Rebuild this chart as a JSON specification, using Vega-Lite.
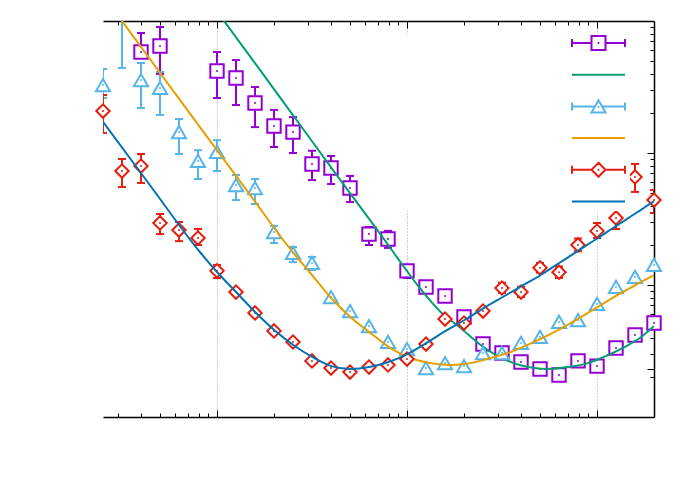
{
  "$schema": "https://vega.github.io/schema/vega-lite/v6.json",
  "width": 551,
  "height": 396,
  "autosize": {"type": "none"},
  "padding": {"left": 103, "top": 21, "right": 38, "bottom": 68},
  "background": "white",
  "config": {"view": {"stroke": null}},
  "datasets": {
    "a": [
      {"x": 3.981, "y": 58.2, "lo": 52.5, "hi": 81.1},
      {"x": 5.012, "y": 64.7, "lo": 39.7, "hi": 90.1},
      {"x": 10, "y": 41.8, "lo": 26.1, "hi": 58.2},
      {"x": 12.59, "y": 37.0, "lo": 23.1, "hi": 50.6},
      {"x": 15.85, "y": 23.9, "lo": 15.7, "hi": 31.6},
      {"x": 19.95, "y": 16.0, "lo": 11.1, "hi": 21.2},
      {"x": 25.12, "y": 14.4, "lo": 10.0, "hi": 18.7},
      {"x": 31.62, "y": 8.26, "lo": 6.24, "hi": 10.4},
      {"x": 39.81, "y": 7.70, "lo": 5.82, "hi": 9.49},
      {"x": 50.12, "y": 5.43, "lo": 4.25, "hi": 6.70},
      {"x": 63.10, "y": 2.43, "lo": 2.01, "hi": 2.75},
      {"x": 79.43, "y": 2.23, "lo": 1.91, "hi": 2.57},
      {"x": 100, "y": 1.28, "lo": 1.13, "hi": 1.42},
      {"x": 125.9, "y": 0.966, "lo": 0.966, "hi": 0.966},
      {"x": 158.5, "y": 0.826, "lo": 0.826, "hi": 0.826},
      {"x": 199.5, "y": 0.572, "lo": 0.572, "hi": 0.572},
      {"x": 251.2, "y": 0.357, "lo": 0.357, "hi": 0.357},
      {"x": 316.2, "y": 0.305, "lo": 0.305, "hi": 0.305},
      {"x": 398.1, "y": 0.261, "lo": 0.261, "hi": 0.261},
      {"x": 501.2, "y": 0.231, "lo": 0.231, "hi": 0.231},
      {"x": 631.0, "y": 0.208, "lo": 0.208, "hi": 0.208},
      {"x": 794.3, "y": 0.266, "lo": 0.266, "hi": 0.266},
      {"x": 1000, "y": 0.243, "lo": 0.243, "hi": 0.243},
      {"x": 1259, "y": 0.333, "lo": 0.333, "hi": 0.333},
      {"x": 1585, "y": 0.418, "lo": 0.418, "hi": 0.418},
      {"x": 1995, "y": 0.515, "lo": 0.515, "hi": 0.515}
    ],
    "b": [
      {"x": 2.512, "y": 32.7, "lo": 26.1, "hi": 43.3},
      {"x": 3.162, "y": 120, "lo": 44.1, "hi": 200},
      {"x": 3.981, "y": 35.7, "lo": 21.9, "hi": 48.1},
      {"x": 5.012, "y": 31.1, "lo": 19.4, "hi": 41.1},
      {"x": 6.310, "y": 14.4, "lo": 9.83, "hi": 18.1},
      {"x": 7.943, "y": 8.70, "lo": 6.35, "hi": 10.5},
      {"x": 10, "y": 10.2, "lo": 7.30, "hi": 12.5},
      {"x": 12.59, "y": 5.72, "lo": 4.40, "hi": 6.81},
      {"x": 15.85, "y": 5.43, "lo": 4.11, "hi": 6.35},
      {"x": 19.95, "y": 2.52, "lo": 2.08, "hi": 2.80},
      {"x": 25.12, "y": 1.75, "lo": 1.49, "hi": 1.94},
      {"x": 31.62, "y": 1.47, "lo": 1.30, "hi": 1.63},
      {"x": 39.81, "y": 0.811, "lo": 0.811, "hi": 0.811},
      {"x": 50.12, "y": 0.635, "lo": 0.635, "hi": 0.635},
      {"x": 63.10, "y": 0.489, "lo": 0.489, "hi": 0.489},
      {"x": 79.43, "y": 0.370, "lo": 0.370, "hi": 0.370},
      {"x": 100, "y": 0.327, "lo": 0.327, "hi": 0.327},
      {"x": 125.9, "y": 0.235, "lo": 0.235, "hi": 0.235},
      {"x": 158.5, "y": 0.256, "lo": 0.256, "hi": 0.256},
      {"x": 199.5, "y": 0.243, "lo": 0.243, "hi": 0.243},
      {"x": 251.2, "y": 0.305, "lo": 0.305, "hi": 0.305},
      {"x": 316.2, "y": 0.305, "lo": 0.305, "hi": 0.305},
      {"x": 398.1, "y": 0.364, "lo": 0.364, "hi": 0.364},
      {"x": 501.2, "y": 0.404, "lo": 0.404, "hi": 0.404},
      {"x": 631.0, "y": 0.525, "lo": 0.525, "hi": 0.525},
      {"x": 794.3, "y": 0.543, "lo": 0.543, "hi": 0.543},
      {"x": 1000, "y": 0.718, "lo": 0.718, "hi": 0.718},
      {"x": 1259, "y": 0.966, "lo": 0.966, "hi": 0.966},
      {"x": 1585, "y": 1.15, "lo": 1.15, "hi": 1.15},
      {"x": 1995, "y": 1.42, "lo": 1.42, "hi": 1.42}
    ],
    "c": [
      {"x": 2.512, "y": 20.8, "lo": 14.2, "hi": 27.5},
      {"x": 3.162, "y": 7.30, "lo": 5.52, "hi": 9.01},
      {"x": 3.981, "y": 7.97, "lo": 5.93, "hi": 9.83},
      {"x": 5.012, "y": 2.95, "lo": 2.43, "hi": 3.45},
      {"x": 6.310, "y": 2.61, "lo": 2.15, "hi": 3.00},
      {"x": 7.943, "y": 2.27, "lo": 2.01, "hi": 2.66},
      {"x": 10, "y": 1.28, "lo": 1.13, "hi": 1.42},
      {"x": 12.59, "y": 0.885, "lo": 0.885, "hi": 0.885},
      {"x": 15.85, "y": 0.614, "lo": 0.614, "hi": 0.614},
      {"x": 19.95, "y": 0.449, "lo": 0.449, "hi": 0.449},
      {"x": 25.12, "y": 0.370, "lo": 0.370, "hi": 0.370},
      {"x": 31.62, "y": 0.266, "lo": 0.266, "hi": 0.266},
      {"x": 39.81, "y": 0.235, "lo": 0.235, "hi": 0.235},
      {"x": 50.12, "y": 0.219, "lo": 0.219, "hi": 0.219},
      {"x": 63.10, "y": 0.239, "lo": 0.239, "hi": 0.239},
      {"x": 79.43, "y": 0.248, "lo": 0.248, "hi": 0.248},
      {"x": 100, "y": 0.275, "lo": 0.275, "hi": 0.275},
      {"x": 125.9, "y": 0.357, "lo": 0.357, "hi": 0.357},
      {"x": 158.5, "y": 0.552, "lo": 0.552, "hi": 0.552},
      {"x": 199.5, "y": 0.515, "lo": 0.515, "hi": 0.515},
      {"x": 251.2, "y": 0.635, "lo": 0.635, "hi": 0.635},
      {"x": 316.2, "y": 0.949, "lo": 0.87, "hi": 1.04},
      {"x": 398.1, "y": 0.885, "lo": 0.81, "hi": 0.97},
      {"x": 501.2, "y": 1.35, "lo": 1.24, "hi": 1.47},
      {"x": 631.0, "y": 1.25, "lo": 1.13, "hi": 1.38},
      {"x": 794.3, "y": 2.01, "lo": 1.80, "hi": 2.25},
      {"x": 1000, "y": 2.56, "lo": 2.27, "hi": 2.95},
      {"x": 1259, "y": 3.22, "lo": 2.66, "hi": 3.76},
      {"x": 1585, "y": 6.58, "lo": 5.07, "hi": 8.26},
      {"x": 1995, "y": 4.40, "lo": 3.51, "hi": 5.24}
    ],
    "fa": [
      {"x": 10, "y": 118.2}, {"x": 16.87, "y": 42.4}, {"x": 27.4, "y": 16.3},
      {"x": 44.6, "y": 6.24}, {"x": 72.4, "y": 2.43}, {"x": 98.2, "y": 1.322},
      {"x": 117.8, "y": 0.933}, {"x": 150.3, "y": 0.624}, {"x": 191.5, "y": 0.472},
      {"x": 244.2, "y": 0.351}, {"x": 339, "y": 0.266}, {"x": 465, "y": 0.235},
      {"x": 551, "y": 0.231}, {"x": 703, "y": 0.239}, {"x": 897, "y": 0.256},
      {"x": 1143, "y": 0.295}, {"x": 1459, "y": 0.351}, {"x": 1710, "y": 0.404},
      {"x": 1995, "y": 0.489}
    ],
    "fb": [
      {"x": 2.512, "y": 156.8}, {"x": 8.13, "y": 15.7}, {"x": 14.93, "y": 4.81},
      {"x": 24.3, "y": 1.875}, {"x": 30.97, "y": 1.233}, {"x": 39.5, "y": 0.811},
      {"x": 50.3, "y": 0.572}, {"x": 64.2, "y": 0.433}, {"x": 81.8, "y": 0.333},
      {"x": 104.3, "y": 0.280}, {"x": 133.0, "y": 0.256}, {"x": 169.8, "y": 0.248},
      {"x": 216.3, "y": 0.256}, {"x": 276, "y": 0.280}, {"x": 351.6, "y": 0.311},
      {"x": 465, "y": 0.370}, {"x": 623, "y": 0.456}, {"x": 823, "y": 0.572},
      {"x": 1050, "y": 0.706}, {"x": 1340, "y": 0.870}, {"x": 1708, "y": 1.054},
      {"x": 1995, "y": 1.19}
    ],
    "fc": [
      {"x": 2.512, "y": 17.2}, {"x": 4.43, "y": 5.72}, {"x": 8.13, "y": 1.778},
      {"x": 10, "y": 1.254}, {"x": 12.6, "y": 0.885}, {"x": 15.87, "y": 0.624},
      {"x": 20.0, "y": 0.456}, {"x": 25.2, "y": 0.351}, {"x": 31.7, "y": 0.285},
      {"x": 39.96, "y": 0.243}, {"x": 50.3, "y": 0.231}, {"x": 63.4, "y": 0.239},
      {"x": 79.8, "y": 0.261}, {"x": 100.6, "y": 0.300}, {"x": 126.7, "y": 0.364},
      {"x": 159.6, "y": 0.449}, {"x": 201, "y": 0.543}, {"x": 253.4, "y": 0.669},
      {"x": 319, "y": 0.811}, {"x": 402, "y": 0.983}, {"x": 506, "y": 1.191},
      {"x": 645, "y": 1.494}, {"x": 823, "y": 1.875}, {"x": 1012, "y": 2.27},
      {"x": 1259, "y": 2.80}, {"x": 1607, "y": 3.51}, {"x": 1995, "y": 4.33}
    ],
    "keys": [
      {"k": "data A"}, {"k": "fit A"}, {"k": "data B"}, {"k": "fit B"}, {"k": "data C"}, {"k": "fit C"}
    ]
  },
  "layer": [
    {
      "data": {"name": "a"},
      "encoding": {
        "x": {
          "field": "x", "type": "quantitative",
          "scale": {"type": "log", "domain": [2.512, 1995], "nice": false},
          "axis": {
            "orient": "bottom", "title": null, "labels": false,
            "values": [3, 4, 5, 6, 7, 8, 9, 10, 20, 30, 40, 50, 60, 70, 80, 90, 100, 200, 300, 400, 500, 600, 700, 800, 900, 1000],
            "domainColor": "black", "domainWidth": 1.5, "tickColor": "black", "tickWidth": 1,
            "tickSize": {"condition": {"test": "datum.value == 10 || datum.value == 100 || datum.value == 1000", "value": -7}, "value": -4},
            "grid": true, "gridColor": "#a0a0a0", "gridDash": [1, 2], "gridWidth": 1,
            "gridOpacity": {"condition": {"test": "datum.value == 10 || datum.value == 100 || datum.value == 1000", "value": 1}, "value": 0}
          }
        }
      },
      "layer": [
        {
          "mark": {"type": "rule", "color": "#9400d3", "strokeWidth": 2, "clip": true},
          "encoding": {
            "y": {
              "field": "lo", "type": "quantitative",
              "scale": {"type": "log", "domain": [0.1, 100], "nice": false},
              "axis": {
                "orient": "left", "title": null, "labels": false,
                "values": [0.2, 0.231, 0.3, 0.4, 0.5, 0.6, 0.7, 0.8, 0.9, 1, 2, 3, 4, 5, 6, 7, 8, 9, 10, 20, 30, 40, 50, 60, 70, 80, 90],
                "domainColor": "black", "domainWidth": 1.5, "tickColor": "black", "tickWidth": 1,
                "tickSize": {"condition": {"test": "datum.value == 0.231 || datum.value == 1 || datum.value == 10", "value": -7}, "value": -4},
                "grid": true, "gridColor": "#a0a0a0", "gridDash": [1, 2], "gridWidth": 1,
                "gridOpacity": {"condition": {"test": "datum.value == 0.231 || datum.value == 1 || datum.value == 10", "value": 1}, "value": 0}
              }
            },
            "y2": {"field": "hi"}
          }
        },
        {
          "mark": {"type": "tick", "orient": "horizontal", "color": "#9400d3", "size": 8, "thickness": 2, "opacity": 1, "clip": true},
          "encoding": {"y": {"field": "lo", "type": "quantitative", "scale": {"type": "log", "domain": [0.1, 100], "nice": false}, "axis": null}}
        },
        {
          "mark": {"type": "tick", "orient": "horizontal", "color": "#9400d3", "size": 8, "thickness": 2, "opacity": 1, "clip": true},
          "encoding": {"y": {"field": "hi", "type": "quantitative", "scale": {"type": "log", "domain": [0.1, 100], "nice": false}, "axis": null}}
        },
        {
          "transform": [{"filter": "datum.y <= 100"}],
          "mark": {"type": "point", "shape": "square", "size": 180, "filled": true, "fill": "white", "stroke": "#9400d3", "strokeWidth": 2, "opacity": 1},
          "encoding": {"y": {"field": "y", "type": "quantitative", "scale": {"type": "log", "domain": [0.1, 100], "nice": false}, "axis": null}}
        },
        {
          "transform": [{"filter": "datum.y <= 100"}],
          "mark": {"type": "point", "shape": "circle", "size": 4, "filled": true, "color": "#9400d3", "opacity": 1},
          "encoding": {"y": {"field": "y", "type": "quantitative", "scale": {"type": "log", "domain": [0.1, 100], "nice": false}, "axis": null}}
        }
      ]
    },
    {
      "data": {"name": "fa"},
      "mark": {"type": "line", "color": "#009e73", "strokeWidth": 2, "interpolate": "monotone", "clip": true},
      "encoding": {
        "x": {
          "field": "x", "type": "quantitative",
          "scale": {"type": "log", "domain": [2.512, 1995], "nice": false},
          "axis": {
            "orient": "top", "title": null, "labels": false, "grid": false,
            "values": [3, 4, 5, 6, 7, 8, 9, 10, 20, 30, 40, 50, 60, 70, 80, 90, 100, 200, 300, 400, 500, 600, 700, 800, 900, 1000],
            "domainColor": "black", "domainWidth": 1.5, "tickColor": "black", "tickWidth": 1,
            "tickSize": {"condition": {"test": "datum.value == 10 || datum.value == 100 || datum.value == 1000", "value": -7}, "value": -4}
          }
        },
        "y": {
          "field": "y", "type": "quantitative",
          "scale": {"type": "log", "domain": [0.1, 100], "nice": false},
          "axis": {
            "orient": "right", "title": null, "labels": false, "grid": false,
            "values": [0.2, 0.231, 0.3, 0.4, 0.5, 0.6, 0.7, 0.8, 0.9, 1, 2, 3, 4, 5, 6, 7, 8, 9, 10, 20, 30, 40, 50, 60, 70, 80, 90],
            "domainColor": "black", "domainWidth": 1.5, "tickColor": "black", "tickWidth": 1,
            "tickSize": {"condition": {"test": "datum.value == 0.231 || datum.value == 1 || datum.value == 10", "value": -7}, "value": -4}
          }
        }
      }
    },
    {
      "data": {"name": "b"},
      "encoding": {
        "x": {"field": "x", "type": "quantitative", "scale": {"type": "log", "domain": [2.512, 1995], "nice": false}, "axis": null}
      },
      "layer": [
        {
          "mark": {"type": "rule", "color": "#56b4e9", "strokeWidth": 2, "clip": true},
          "encoding": {
            "y": {"field": "lo", "type": "quantitative", "scale": {"type": "log", "domain": [0.1, 100], "nice": false}, "axis": null},
            "y2": {"field": "hi"}
          }
        },
        {
          "mark": {"type": "tick", "orient": "horizontal", "color": "#56b4e9", "size": 8, "thickness": 2, "opacity": 1, "clip": true},
          "encoding": {"y": {"field": "lo", "type": "quantitative", "scale": {"type": "log", "domain": [0.1, 100], "nice": false}, "axis": null}}
        },
        {
          "mark": {"type": "tick", "orient": "horizontal", "color": "#56b4e9", "size": 8, "thickness": 2, "opacity": 1, "clip": true},
          "encoding": {"y": {"field": "hi", "type": "quantitative", "scale": {"type": "log", "domain": [0.1, 100], "nice": false}, "axis": null}}
        },
        {
          "transform": [{"filter": "datum.y <= 100"}],
          "mark": {"type": "point", "shape": "triangle-up", "size": 200, "filled": true, "fill": "white", "stroke": "#56b4e9", "strokeWidth": 2, "opacity": 1},
          "encoding": {"y": {"field": "y", "type": "quantitative", "scale": {"type": "log", "domain": [0.1, 100], "nice": false}, "axis": null}}
        },
        {
          "transform": [{"filter": "datum.y <= 100"}],
          "mark": {"type": "point", "shape": "circle", "size": 4, "filled": true, "color": "#56b4e9", "opacity": 1},
          "encoding": {"y": {"field": "y", "type": "quantitative", "scale": {"type": "log", "domain": [0.1, 100], "nice": false}, "axis": null}}
        }
      ]
    },
    {
      "data": {"name": "fb"},
      "mark": {"type": "line", "color": "#e69f00", "strokeWidth": 2, "interpolate": "monotone", "clip": true},
      "encoding": {
        "x": {"field": "x", "type": "quantitative", "scale": {"type": "log", "domain": [2.512, 1995], "nice": false}, "axis": null},
        "y": {"field": "y", "type": "quantitative", "scale": {"type": "log", "domain": [0.1, 100], "nice": false}, "axis": null}
      }
    },
    {
      "data": {"name": "c"},
      "encoding": {
        "x": {"field": "x", "type": "quantitative", "scale": {"type": "log", "domain": [2.512, 1995], "nice": false}, "axis": null}
      },
      "layer": [
        {
          "mark": {"type": "rule", "color": "#e51e10", "strokeWidth": 2, "clip": true},
          "encoding": {
            "y": {"field": "lo", "type": "quantitative", "scale": {"type": "log", "domain": [0.1, 100], "nice": false}, "axis": null},
            "y2": {"field": "hi"}
          }
        },
        {
          "mark": {"type": "tick", "orient": "horizontal", "color": "#e51e10", "size": 8, "thickness": 2, "opacity": 1, "clip": true},
          "encoding": {"y": {"field": "lo", "type": "quantitative", "scale": {"type": "log", "domain": [0.1, 100], "nice": false}, "axis": null}}
        },
        {
          "mark": {"type": "tick", "orient": "horizontal", "color": "#e51e10", "size": 8, "thickness": 2, "opacity": 1, "clip": true},
          "encoding": {"y": {"field": "hi", "type": "quantitative", "scale": {"type": "log", "domain": [0.1, 100], "nice": false}, "axis": null}}
        },
        {
          "mark": {"type": "point", "shape": "diamond", "size": 180, "filled": true, "fill": "white", "stroke": "#e51e10", "strokeWidth": 2, "opacity": 1},
          "encoding": {"y": {"field": "y", "type": "quantitative", "scale": {"type": "log", "domain": [0.1, 100], "nice": false}, "axis": null}}
        },
        {
          "mark": {"type": "point", "shape": "circle", "size": 4, "filled": true, "color": "#e51e10", "opacity": 1},
          "encoding": {"y": {"field": "y", "type": "quantitative", "scale": {"type": "log", "domain": [0.1, 100], "nice": false}, "axis": null}}
        }
      ]
    },
    {
      "data": {"name": "fc"},
      "mark": {"type": "line", "color": "#0072b2", "strokeWidth": 2, "interpolate": "monotone", "clip": true},
      "encoding": {
        "x": {"field": "x", "type": "quantitative", "scale": {"type": "log", "domain": [2.512, 1995], "nice": false}, "axis": null},
        "y": {"field": "y", "type": "quantitative", "scale": {"type": "log", "domain": [0.1, 100], "nice": false}, "axis": null}
      }
    },
    {
      "data": {"name": "keys"},
      "mark": {"type": "point", "filled": false, "opacity": 0},
      "encoding": {
        "color": {
          "field": "k", "type": "nominal",
          "scale": {"domain": ["data A", "fit A", "data B", "fit B", "data C", "fit C"], "range": ["#9400d3", "#009e73", "#56b4e9", "#e69f00", "#e51e10", "#0072b2"]},
          "legend": {
            "orient": "none", "legendX": 303, "legendY": 13, "title": null, "labelExpr": "''", "labelFontSize": 1,
            "fillColor": "white", "padding": 0, "clipHeight": 18, "symbolSize": 2809, "symbolStrokeWidth": 2, "symbolOffset": 165, "rowPadding": 13.7,
            "encode": {"symbols": {"update": {"opacity": {"value": 1}, "strokeJoin": {"value": "round"}}}}
          }
        },
        "shape": {
          "field": "k", "type": "nominal",
          "scale": {
            "domain": ["data A", "fit A", "data B", "fit B", "data C", "fit C"],
            "range": [
              "M0,-0.3M0,0.3M-1,-0.15V0.15M1,-0.15V0.15M-1,0H-0.264M0.264,0H1M-0.264,-0.264H0.264V0.264H-0.264ZM-0.03,0H0.03",
              "M0,-0.3M0,0.3M-1,0H1",
              "M0,-0.3M0,0.3M-1,-0.15V0.15M1,-0.15V0.15M-1,0H-0.132M0.132,0H1M0,-0.229L0.264,0.229H-0.264ZM-0.03,0.02H0.03",
              "M0,-0.3M0,0.3M-1,0H1",
              "M0,-0.3M0,0.3M-1,-0.15V0.15M1,-0.15V0.15M-1,0H-0.264M0.264,0H1M0,-0.264L0.264,0L0,0.264L-0.264,0ZM-0.03,0H0.03",
              "M0,-0.3M0,0.3M-1,0H1"
            ]
          },
          "legend": {
            "orient": "none", "legendX": 303, "legendY": 13, "title": null, "labelExpr": "''", "labelFontSize": 1,
            "fillColor": "white", "padding": 0, "clipHeight": 18, "symbolSize": 2809, "symbolStrokeWidth": 2, "symbolOffset": 165, "rowPadding": 13.7,
            "encode": {"symbols": {"update": {"opacity": {"value": 1}, "strokeJoin": {"value": "round"}}}}
          }
        }
      }
    }
  ],
  "resolve": {"axis": {"x": "independent", "y": "independent"}}
}
